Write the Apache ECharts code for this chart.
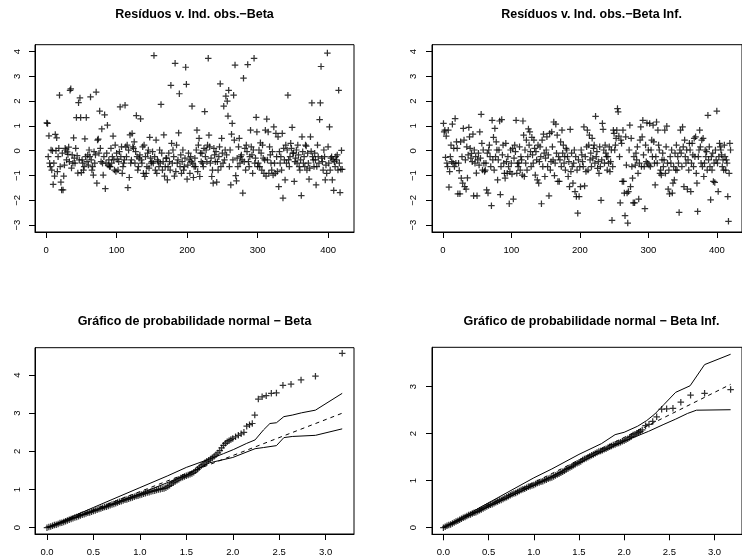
<!DOCTYPE html>
<html>
<head>
<meta charset="utf-8">
<script src="https://cdn.jsdelivr.net/npm/echarts@6/dist/echarts.min.js"></script>
<style>html,body{margin:0;background:#fff}#chart{width:742px;height:558px}</style>
</head>
<body>
<div id="chart"></div>
<script>
var titles = [
  'Resíduos v. Ind. obs.−Beta',
  'Resíduos v. Ind. obs.−Beta Inf.',
  'Gráfico de probabilidade normal − Beta',
  'Gráfico de probabilidade normal − Beta Inf.'
];

// residuals against observation index (1..420)
var resBeta = [
  1.12,1.1,-0.24,0.6,-0.5,-0.64,0.03,-0.78,0.0,-1.36,
  -0.5,-1.02,0.66,0.0,0.52,-0.84,-0.24,0.1,2.24,-0.64,
  -1.27,-1.58,-0.1,-1.58,-1.02,-0.58,0.1,0.03,-0.37,-0.05,
  -0.15,0.15,-0.44,2.44,2.5,-0.7,-0.17,-0.5,0.52,-0.3,
  -0.5,0.1,1.34,-0.2,-0.9,1.94,-0.37,2.13,1.34,-0.88,
  -0.37,-0.5,-0.78,-0.64,0.48,-0.24,1.34,-0.44,-0.17,-0.58,
  0.03,-0.24,2.17,-0.37,-0.78,-0.64,-0.98,-0.04,-0.5,-0.17,
  2.37,-1.31,0.43,0.47,-0.1,1.6,0.1,-0.44,0.88,-0.5,
  -0.98,-0.24,1.45,-1.53,-0.5,-0.1,1.03,-0.58,-0.37,-0.64,
  -0.64,0.1,-0.5,-0.24,0.59,-0.37,-0.78,0.23,-0.84,-0.1,
  -0.34,-0.78,-0.44,-0.04,1.77,-0.24,0.16,-0.91,-0.64,-0.5,
  -0.37,1.84,0.16,-0.24,0.23,-1.49,0.02,-1.08,0.64,-0.5,
  -0.37,0.7,0.16,0.1,0.36,-0.5,-0.04,1.42,-0.24,-0.78,
  -0.64,-0.3,-0.17,1.29,-0.37,-0.5,0.16,-0.91,0.23,-1.04,
  -0.24,-0.91,-0.64,-0.1,0.03,-0.7,0.54,-0.3,-0.5,-0.44,
  -0.04,-0.5,3.84,-0.24,-0.78,0.43,-0.91,-0.37,-0.44,-0.64,
  0.03,-0.5,1.87,-0.1,-0.78,-0.44,0.64,-1.02,-0.64,-0.3,
  -0.3,-1.18,-0.64,-0.1,-0.44,-0.78,2.64,0.3,-0.5,0.03,
  -0.24,-1.02,3.53,-0.84,0.23,-0.5,-0.37,0.72,2.3,-0.64,
  -0.17,-0.91,-0.44,0.03,-0.78,-0.64,-0.3,3.37,2.68,-1.15,
  -0.58,-0.1,-0.37,-0.91,-0.24,-0.44,1.8,-0.5,-1.08,-0.64,
  -0.3,-0.64,0.03,0.83,-0.84,0.23,0.5,-1.04,-0.1,-0.44,
  -0.1,-0.5,-0.64,0.1,1.58,-0.24,0.03,-0.44,0.23,3.73,
  0.63,0.16,-0.5,-0.3,-1.04,-0.78,-1.31,0.1,-0.17,-0.44,
  -0.04,-1.27,-0.44,-0.78,-0.24,0.16,2.7,-0.64,0.5,-0.1,
  -0.5,1.8,-0.37,0.03,2.2,-0.17,2.0,1.4,2.44,-0.64,
  0.03,-1.38,0.67,1.1,-0.37,2.24,0.43,3.46,-1.0,-1.22,
  -0.3,-0.64,0.16,0.5,-0.5,-0.24,-0.17,-0.37,-1.71,2.93,
  -0.44,0.1,-0.78,0.23,-0.04,3.48,-0.44,-0.64,-0.24,0.83,
  0.16,-0.17,-0.91,0.03,3.73,-0.5,-0.3,1.35,0.76,-0.64,
  -0.5,0.03,-0.64,0.32,-0.1,-0.78,0.23,-0.3,-0.91,-0.37,
  0.83,-1.02,1.28,-0.37,0.76,-0.91,0.16,-0.17,-0.5,-0.78,
  -0.04,-0.98,0.96,-0.5,-0.91,0.7,-0.24,-0.84,0.56,-1.45,
  -0.04,-0.5,-0.24,-0.78,0.7,-1.91,0.1,-0.37,-1.18,0.23,
  -0.5,0.03,2.24,-0.37,-0.64,-0.24,0.3,0.1,0.94,-0.1,
  -0.1,-1.24,-0.44,-0.3,0.03,-0.5,0.23,-0.17,-0.64,-0.78,
  -0.37,-1.81,0.56,-0.04,-0.5,-0.24,-0.64,0.23,0.19,-0.78,
  -0.1,-0.5,-1.15,-0.7,0.56,-0.03,1.93,-0.24,-0.37,-0.64,
  -0.1,-0.37,-1.38,-0.64,0.23,-0.24,-0.5,1.26,1.93,3.4,
  -0.3,-0.44,-0.78,0.03,-0.24,-1.18,-0.58,-0.91,3.94,0.16,
  -0.5,0.96,-0.78,-0.3,-0.24,-1.18,-0.37,-1.6,-0.44,-0.64,
  -0.24,-0.37,-0.17,-0.78,2.44,-0.5,-1.69,-0.75,0.01,-0.75
];

var resBetaInf = [
  1.1,0.76,0.83,-0.27,0.59,-0.5,-0.64,0.83,-1.47,-0.84,
  -0.24,0.23,-0.44,1.07,-0.5,0.1,-0.64,1.3,-0.5,0.36,
  0.1,-1.74,-0.5,-0.8,-1.74,0.36,-1.11,-0.24,-1.31,0.9,
  0.43,-1.45,-0.37,-1.55,0.16,-1.1,-0.17,0.94,0.56,0.1,
  -0.3,-0.11,-0.44,0.67,-1.82,0.03,-0.5,-0.24,-0.9,-1.82,
  -0.37,-0.1,-0.58,0.76,-0.3,1.47,0.3,-0.78,0.03,-0.5,
  -0.84,-0.78,-0.5,-1.58,-0.1,-1.71,0.03,0.23,-0.24,-0.64,
  -2.22,1.23,-0.37,0.54,-0.78,0.9,-0.24,0.36,0.03,-1.18,
  -0.37,0.03,1.2,-1.77,-0.64,1.26,-0.17,0.23,-0.5,-0.91,
  -1.11,0.3,-0.44,-0.91,-0.24,-0.64,-2.14,-0.84,0.03,-0.5,
  -0.94,0.1,-1.95,-0.3,0.23,-0.04,1.23,-0.91,-0.5,-0.64,
  -0.5,0.16,-0.78,-0.24,-0.37,-0.98,1.2,0.63,-1.04,0.03,
  -0.5,0.43,-0.78,-0.24,0.88,0.23,0.76,-0.04,-0.64,0.54,
  -0.17,-0.5,0.43,0.1,-0.98,-0.04,-0.37,-1.18,0.23,-1.31,
  -0.44,0.16,-0.24,-2.14,0.43,-0.64,0.67,-0.1,-1.04,-0.3,
  0.03,0.56,-0.64,-0.17,-1.82,0.7,-0.78,-0.44,0.76,0.16,
  -0.37,1.16,-1.0,-0.5,1.07,-0.1,0.63,-1.24,-0.24,-1.24,
  -0.37,0.36,-0.64,0.83,-0.1,0.23,-0.5,-0.24,-0.78,0.1,
  0.03,-0.24,-1.04,-0.44,-1.45,0.86,-0.84,-0.1,-0.64,-1.31,
  -0.5,0.03,-1.65,-0.24,-1.85,-0.78,-2.52,-0.37,-1.85,-0.64,
  -1.45,0.03,-0.17,-0.44,-0.64,0.96,-1.42,-0.24,-0.84,0.16,
  0.83,-0.78,0.23,0.63,-0.37,-0.1,-0.64,0.5,-0.3,0.1,
  0.23,-0.5,1.39,-0.24,-0.04,-0.71,-0.44,-0.91,0.16,-0.64,
  -2.0,-0.37,1.1,0.86,0.03,-0.5,0.23,-0.1,-0.24,-0.78,
  -0.24,-0.5,0.16,-0.84,-0.44,0.03,-2.81,-0.64,0.83,0.7,
  0.03,0.23,0.5,0.83,1.7,1.57,0.59,-0.24,-2.1,0.43,
  0.3,-1.24,0.83,-1.24,-1.71,-2.62,0.56,-0.58,-1.71,-2.92,
  -1.65,0.03,1.03,-1.45,0.5,-0.64,-1.11,-2.1,-0.24,-2.1,
  -0.58,-0.1,-0.37,0.16,-0.91,-1.95,-0.5,0.43,0.96,-0.64,
  0.56,1.23,-0.17,-0.64,-2.34,0.23,-0.44,1.12,-0.5,0.03,
  -0.58,1.1,-0.64,0.03,0.43,-0.24,1.03,0.36,-0.5,-1.38,
  -0.24,1.16,-0.5,0.83,0.23,0.03,-0.91,-0.78,-0.98,-0.37,
  -0.1,-0.64,-0.37,0.83,-0.91,0.16,0.99,-0.5,-1.55,-0.78,
  -1.74,-0.24,-0.5,0.03,-1.71,-1.31,-0.64,-1.18,-0.1,-0.78,
  0.23,-0.78,-0.24,-0.5,-2.49,0.03,0.83,-0.1,-0.64,0.96,
  0.16,-1.45,0.43,-0.24,-0.5,0.03,-1.55,-0.37,-0.78,0.3,
  0.03,-1.65,-0.5,0.3,-0.17,-0.64,0.5,-0.24,0.56,-0.91,
  -1.31,-2.45,-0.24,0.03,0.83,0.16,-0.5,0.43,-0.64,0.5,
  -1.04,-0.5,0.03,-0.24,-0.04,-0.78,1.43,-0.37,0.16,-0.64,
  -1.98,-0.24,-0.78,-0.1,-1.24,-0.5,-1.28,0.03,-0.37,1.6,
  -0.5,-1.65,-0.24,0.3,0.16,0.03,-0.17,-0.64,-0.37,-0.78,
  0.23,-0.24,-0.78,-0.37,-0.5,-1.85,-2.85,-0.91,0.3,0.03
];

// half-normal plot, Beta: theoretical quantile (x) and ordered |residual| (y)
var qqBetaX = [
  0.00,0.02,0.04,0.06,0.08,0.10,0.12,0.14,0.16,0.18,0.20,0.22,0.24,0.26,0.28,0.30,
  0.32,0.34,0.36,0.38,0.40,0.42,0.44,0.46,0.48,0.50,0.52,0.54,0.56,0.58,0.60,0.62,
  0.64,0.66,0.68,0.70,0.72,0.74,0.76,0.78,0.80,0.82,0.84,0.86,0.88,0.90,0.92,0.94,
  0.96,0.98,1.00,1.02,1.04,1.06,1.08,1.10,1.12,1.14,1.16,1.18,1.20,1.22,1.24,1.26,
  1.28,1.30,1.32,1.34,1.36,1.38,1.40,1.42,1.44,1.46,1.48,1.50,1.52,1.54,1.56,1.58,
  1.60,1.62,1.64,1.66,1.68,1.70,1.72,1.74,1.76,1.78,1.80,1.82,1.84,1.86,1.88,1.90,
  1.92,1.94,1.96,1.98,2.00,2.03,2.06,2.09,2.12,2.15,2.18,2.21,
  2.237,2.275,2.316,2.36,2.415,2.47,2.54,2.627,2.735,2.89,3.178
];
var qqBetaY = [
  0.00,0.02,0.03,0.05,0.07,0.08,0.10,0.12,0.13,0.15,0.17,0.19,0.21,0.23,0.25,0.27,
  0.28,0.30,0.32,0.34,0.35,0.37,0.39,0.40,0.42,0.44,0.45,0.47,0.49,0.50,0.52,0.54,
  0.55,0.57,0.59,0.61,0.62,0.64,0.66,0.68,0.69,0.71,0.73,0.74,0.76,0.78,0.79,0.81,
  0.83,0.84,0.86,0.87,0.89,0.90,0.92,0.93,0.95,0.96,0.97,0.99,1.00,1.01,1.02,1.03,
  1.05,1.08,1.11,1.15,1.18,1.21,1.24,1.27,1.30,1.32,1.34,1.36,1.38,1.40,1.42,1.45,
  1.49,1.53,1.58,1.62,1.66,1.70,1.74,1.77,1.80,1.83,1.87,1.91,1.96,2.02,2.09,2.16,
  2.21,2.25,2.28,2.31,2.34,2.38,2.42,2.46,2.50,2.66,2.70,2.73,
  2.95,3.37,3.43,3.46,3.52,3.53,3.73,3.76,3.87,3.97,4.57
];
var envBetaUpper = [[0,0],[0.5,0.53],[1.0,1.05],[1.3,1.36],[1.5,1.58],[1.75,1.8],[1.9,1.94],
  [2.01,2.05],[2.15,2.21],[2.24,2.3],[2.33,2.56],[2.4,2.73],[2.47,2.75],[2.55,2.91],
  [2.64,2.95],[2.74,3.01],[2.89,3.08],[3.178,3.52]];
var envBetaMid = [[0,0],[1.0,0.945],[2.0,1.89],[3.178,3.0]];
var envBetaLower = [[0,0],[0.5,0.44],[1.0,0.89],[1.5,1.38],[1.75,1.7],[2.0,1.84],
  [2.24,2.07],[2.33,2.1],[2.47,2.15],[2.55,2.36],[2.64,2.39],[2.89,2.42],[3.178,2.59]];

// half-normal plot, Beta Inf.
var qqInfX = [
  0.00,0.02,0.04,0.06,0.08,0.10,0.12,0.14,0.16,0.18,0.20,0.22,0.24,0.26,0.28,0.30,
  0.32,0.34,0.36,0.38,0.40,0.42,0.44,0.46,0.48,0.50,0.52,0.54,0.56,0.58,0.60,0.62,
  0.64,0.66,0.68,0.70,0.72,0.74,0.76,0.78,0.80,0.82,0.84,0.86,0.88,0.90,0.92,0.94,
  0.96,0.98,1.00,1.02,1.04,1.06,1.08,1.10,1.12,1.14,1.16,1.18,1.20,1.22,1.24,1.26,
  1.28,1.30,1.32,1.34,1.36,1.38,1.40,1.42,1.44,1.46,1.48,1.50,1.52,1.54,1.56,1.58,
  1.60,1.62,1.64,1.66,1.68,1.70,1.72,1.74,1.76,1.78,1.80,1.82,1.84,1.86,1.88,1.90,
  1.92,1.94,1.96,1.98,2.00,2.02,2.04,2.06,2.08,2.10,2.12,2.14,2.16,2.18,2.20,
  2.237,2.275,2.316,2.36,2.415,2.47,2.54,2.627,2.735,2.89,3.178
];
var qqInfY = [
  0.00,0.02,0.04,0.06,0.07,0.09,0.11,0.13,0.15,0.17,0.19,0.21,0.23,0.25,0.27,0.28,
  0.30,0.32,0.33,0.35,0.37,0.39,0.41,0.43,0.45,0.47,0.49,0.50,0.52,0.54,0.56,0.58,
  0.59,0.61,0.63,0.65,0.67,0.69,0.71,0.73,0.74,0.76,0.78,0.80,0.82,0.83,0.85,0.87,
  0.88,0.90,0.91,0.93,0.95,0.96,0.98,0.99,1.01,1.02,1.04,1.06,1.07,1.09,1.11,1.13,
  1.15,1.17,1.19,1.21,1.24,1.26,1.28,1.30,1.33,1.35,1.37,1.39,1.41,1.44,1.46,1.48,
  1.50,1.52,1.54,1.56,1.58,1.60,1.62,1.63,1.65,1.67,1.68,1.70,1.72,1.74,1.76,1.77,
  1.79,1.80,1.82,1.84,1.85,1.87,1.89,1.92,1.94,1.97,1.99,2.01,2.03,2.05,2.08,
  2.17,2.2,2.26,2.36,2.52,2.53,2.54,2.67,2.82,2.86,2.94
];
var envInfUpper = [[0,0],[0.5,0.53],[1.0,1.06],[1.2,1.25],[1.5,1.56],[1.75,1.79],[1.9,1.98],
  [2.0,2.03],[2.15,2.16],[2.25,2.28],[2.34,2.42],[2.44,2.62],[2.57,2.88],[2.73,3.02],
  [2.89,3.47],[3.178,3.69]];
var envInfMid = [[0,0],[1.0,0.96],[2.0,1.92],[3.178,3.05]];
var envInfLower = [[0,0],[0.5,0.45],[1.0,0.9],[1.5,1.38],[2.0,1.84],[2.27,2.05],[2.44,2.2],
  [2.57,2.31],[2.7,2.43],[2.8,2.5],[3.178,2.51]];

var idxTicks = [0, 100, 200, 300, 400];
var resTicks = [-3, -2, -1, 0, 1, 2, 3, 4];
var qqXTicks = [0, 0.5, 1, 1.5, 2, 2.5, 3];
var qqBetaYTicks = [0, 1, 2, 3, 4];
var qqInfYTicks = [0, 1, 2, 3];

var FONT = '"Liberation Sans", Arial, Helvetica, sans-serif';
var plus = 'path://M-1,-0.19L1,-0.19L1,0.19L-1,0.19Z M-0.19,-1L0.19,-1L0.19,1L-0.19,1Z';

var grids = [
  { left: 35, top: 44.7, width: 319, height: 187.3 },
  { left: 432, top: 44.7, width: 319, height: 187.3 },
  { left: 35, top: 347.7, width: 319, height: 186.3 },
  { left: 432, top: 347.3, width: 319, height: 187 }
];

function minus(v) {
  return v < 0 ? '\u2212' + Math.abs(v) : String(v);
}

function xAxisFor(i, min, max, ticks, fmt) {
  return {
    gridIndex: i, type: 'value', min: min, max: max,
    axisLine: { show: true, onZero: false, lineStyle: { color: '#000', width: 1 } },
    splitLine: { show: false },
    axisTick: { show: true, length: 6, customValues: ticks, lineStyle: { color: '#000' } },
    axisLabel: { customValues: ticks, formatter: fmt, fontSize: 9.5, color: '#000',
      fontFamily: FONT, margin: 13 }
  };
}
function yAxisFor(i, min, max, ticks, margin) {
  return {
    gridIndex: i, type: 'value', min: min, max: max,
    axisLine: { show: true, onZero: false, lineStyle: { color: '#000', width: 1 } },
    splitLine: { show: false },
    axisTick: { show: true, length: 6, customValues: ticks, lineStyle: { color: '#000' } },
    axisLabel: { customValues: ticks, formatter: minus, rotate: 90, fontSize: 9.5, color: '#000',
      fontFamily: FONT, margin: margin }
  };
}

function pts(series, i) {
  return {
    type: 'scatter', xAxisIndex: i, yAxisIndex: i, data: series,
    symbol: plus, symbolSize: 6.5, itemStyle: { color: '#000' }, silent: true
  };
}
function line(data, i, dashed) {
  return {
    type: 'line', xAxisIndex: i, yAxisIndex: i, data: data, showSymbol: false, silent: true,
    lineStyle: { color: '#000', width: 1, type: dashed ? [4, 4] : 'solid' }
  };
}
function zip(xs, ys) {
  return xs.map(function (x, k) { return [x, ys[k]]; });
}

var n = resBeta.length;
var idxMin = 1 - 0.04 * (n - 1), idxMax = n + 0.04 * (n - 1);
var f1 = function (v) { return v.toFixed(1); };

var chart = echarts.init(document.getElementById('chart'), null, { renderer: 'canvas' });
chart.setOption({
  animation: false,
  backgroundColor: '#fff',
  title: [
    { text: titles[0], left: 194.5, top: 8 },
    { text: titles[1], left: 591.5, top: 8 },
    { text: titles[2], left: 194.5, top: 315 },
    { text: titles[3], left: 591.5, top: 315 }
  ].map(function (t) {
    t.textAlign = 'center';
    t.padding = 0;
    t.textStyle = { fontSize: 12.5, fontWeight: 'bold', color: '#000', fontFamily: FONT };
    return t;
  }),
  grid: grids.map(function (g) {
    return Object.assign({ show: true, borderColor: '#000', borderWidth: 1, backgroundColor: 'transparent' }, g);
  }),
  xAxis: [
    xAxisFor(0, idxMin, idxMax, idxTicks, String),
    xAxisFor(1, idxMin, idxMax, idxTicks, String),
    xAxisFor(2, -0.129, 3.305, qqXTicks, f1),
    xAxisFor(3, -0.126, 3.304, qqXTicks, f1)
  ],
  yAxis: [
    yAxisFor(0, -3.28, 4.28, resTicks, 13),
    yAxisFor(1, -3.28, 4.28, resTicks, 14),
    yAxisFor(2, -0.165, 4.716, qqBetaYTicks, 13),
    yAxisFor(3, -0.14, 3.838, qqInfYTicks, 14)
  ],
  series: [
    pts(resBeta.map(function (v, k) { return [k + 1, v]; }), 0),
    pts(resBetaInf.map(function (v, k) { return [k + 1, v]; }), 1),
    pts(zip(qqBetaX, qqBetaY), 2),
    line(envBetaUpper, 2, false),
    line(envBetaMid, 2, true),
    line(envBetaLower, 2, false),
    pts(zip(qqInfX, qqInfY), 3),
    line(envInfUpper, 3, false),
    line(envInfMid, 3, true),
    line(envInfLower, 3, false)
  ]
});
</script>
</body>
</html>
